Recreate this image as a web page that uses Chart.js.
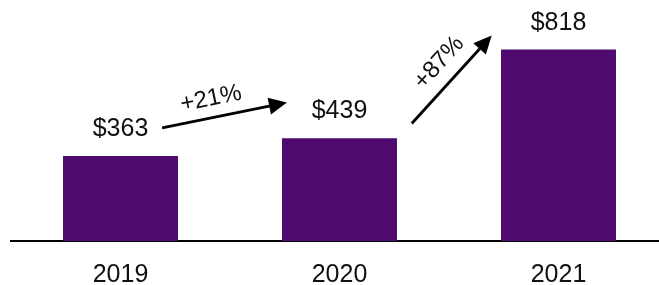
<!DOCTYPE html>
<html>
<head>
<meta charset="utf-8">
<script src="https://cdn.jsdelivr.net/npm/chart.js@4"></script>
<style>
  html, body { margin: 0; padding: 0; overflow: hidden; background: #fff; }
  #wrap { width: 668px; height: 285px; }
</style>
</head>
<body>
<div id="wrap"><canvas id="chartVentas" width="668" height="285"></canvas></div>
<script>
// Datos del gráfico
const years = ['2019', '2020', '2021'];
const values = [363, 439, 818];
const valueLabels = ['$363', '$439', '$818'];

// Flechas de crecimiento (en coordenadas de datos: índice de categoría, valor)
const growthLabels = ['+21%', '+87%'];
const arrowFrom = [[0.19, 484], [1.33, 502]];
const arrowTo = [[0.76, 592], [1.695, 878]];

const purple = '#4f0a70';
const fontFamily = '"Liberation Sans", Arial, sans-serif';

// Plugin: etiquetas de valor encima de las barras
const valueLabelPlugin = {
  id: 'valueLabels',
  afterDatasetsDraw(chart) {
    const ctx = chart.ctx;
    const meta = chart.getDatasetMeta(0);
    ctx.save();
    ctx.font = '25px ' + fontFamily;
    ctx.fillStyle = '#111';
    ctx.textAlign = 'center';
    ctx.textBaseline = 'alphabetic';
    meta.data.forEach((bar, i) => {
      ctx.fillText(valueLabels[i], bar.x, bar.y - 20);
    });
    ctx.restore();
  }
};

// Plugin: flechas con porcentaje
const labelShift = [[-10, -12], [4, -14]];
const arrowPlugin = {
  id: 'arrows',
  afterDatasetsDraw(chart) {
    const ctx = chart.ctx;
    const xs = chart.scales.x;
    const ys = chart.scales.y;
    ctx.save();
    growthLabels.forEach((label, i) => {
      const x1 = xs.getPixelForValue(arrowFrom[i][0]);
      const y1 = ys.getPixelForValue(arrowFrom[i][1]);
      const x2 = xs.getPixelForValue(arrowTo[i][0]);
      const y2 = ys.getPixelForValue(arrowTo[i][1]);
      const ang = Math.atan2(y2 - y1, x2 - x1);
      const headLen = 18;
      const headW = 8.5;
      // linea
      ctx.strokeStyle = '#000';
      ctx.lineWidth = 2.8;
      ctx.beginPath();
      ctx.moveTo(x1, y1);
      ctx.lineTo(x2 - Math.cos(ang) * headLen * 0.8, y2 - Math.sin(ang) * headLen * 0.8);
      ctx.stroke();
      // punta
      ctx.fillStyle = '#000';
      ctx.beginPath();
      ctx.moveTo(x2, y2);
      ctx.lineTo(x2 - Math.cos(ang) * headLen - Math.sin(ang) * headW,
                 y2 - Math.sin(ang) * headLen + Math.cos(ang) * headW);
      ctx.lineTo(x2 - Math.cos(ang) * headLen + Math.sin(ang) * headW,
                 y2 - Math.sin(ang) * headLen - Math.cos(ang) * headW);
      ctx.closePath();
      ctx.fill();
      // texto
      const mx = (x1 + x2) / 2;
      const my = (y1 + y2) / 2;
      ctx.translate(mx, my);
      ctx.rotate(ang);
      ctx.font = '24px ' + fontFamily;
      ctx.textAlign = 'center';
      ctx.textBaseline = 'alphabetic';
      ctx.fillStyle = '#111';
      ctx.fillText(label, labelShift[i][0], labelShift[i][1]);
      ctx.setTransform(1, 0, 0, 1, 0, 0);
    });
    ctx.restore();
  }
};

const chart = new Chart(document.getElementById('chartVentas'), {
  type: 'bar',
  data: {
    labels: years,
    datasets: [{
      data: values,
      backgroundColor: purple,
      borderWidth: 0,
      barPercentage: 0.525,
      categoryPercentage: 1
    }]
  },
  options: {
    responsive: false,
    animation: false,
    events: [],
    layout: { padding: { left: 11, right: 0, top: 0, bottom: 0 } },
    plugins: {
      legend: { display: false },
      tooltip: { enabled: false }
    },
    scales: {
      x: {
        grid: { display: false, drawTicks: false },
        border: { display: true, color: '#000', width: 2 },
        ticks: {
          color: '#111',
          padding: 19,
          font: { family: fontFamily, size: 25 }
        },
        afterFit: (scale) => { scale.height = 44; }
      },
      y: {
        display: false,
        min: 0,
        max: 1030
      }
    }
  },
  plugins: [valueLabelPlugin, arrowPlugin]
});
</script>
</body>
</html>
